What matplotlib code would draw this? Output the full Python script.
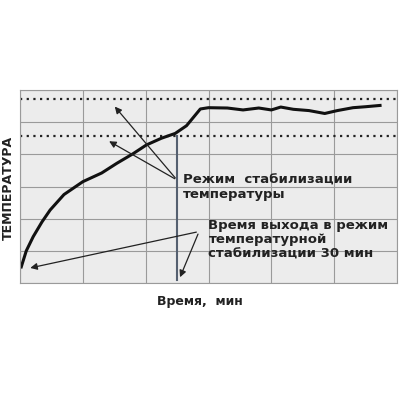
import matplotlib
matplotlib.use("Agg")
import matplotlib.pyplot as plt

# temperature curve (grid units: 6 columns x 6 rows)
curve_x = [0.02, 0.1, 0.21, 0.35, 0.48, 0.7, 1.0, 1.3, 1.54, 1.8, 2.01, 2.25, 2.47, 2.65, 2.87,
           3.0, 3.3, 3.55, 3.8, 4.0, 4.15, 4.35, 4.6, 4.85, 5.05, 5.3, 5.5, 5.73]
curve_y = [0.5, 1.0, 1.44, 1.9, 2.27, 2.75, 3.15, 3.42, 3.72, 4.02, 4.29, 4.5, 4.65, 4.89, 5.41,
           5.45, 5.44, 5.38, 5.44, 5.38, 5.47, 5.4, 5.36, 5.27, 5.36, 5.45, 5.48, 5.52]
upper_level = 5.71
lower_level = 4.57
exit_time = 2.5

fig = plt.figure(figsize=(4, 4), dpi=100)
ax = fig.add_axes([0.05, 0.2925, 0.9425, 0.4825])
ax.set_facecolor("#ececec")
ax.set_xlim(0, 6)
ax.set_ylim(0, 6)
ax.set_xticks(range(7))
ax.set_yticks(range(7))
ax.grid(True, color="#9a9a9a", lw=0.8)
ax.tick_params(length=0, labelbottom=False, labelleft=False)
for s in ax.spines.values():
    s.set_color("#9a9a9a")

ax.axhline(upper_level, color="#222", lw=1.6, ls=(0, (1, 2)))
ax.axhline(lower_level, color="#222", lw=1.6, ls=(0, (1, 2)))
ax.plot(curve_x, curve_y, color="#111", lw=2.2)
ax.plot([exit_time, exit_time], [lower_level, 0.1], color="#556070", lw=1.5)

kw = dict(arrowstyle="-|>", color="#222", lw=0.9, mutation_scale=10)
ax.annotate("", xy=(1.48, 5.55), xytext=(2.5, 3.2), arrowprops=kw)
ax.annotate("", xy=(1.38, 4.45), xytext=(2.5, 3.2), arrowprops=kw)
ax.annotate("", xy=(0.12, 0.45), xytext=(2.85, 1.6), arrowprops=kw)
ax.annotate("", xy=(2.53, 0.1), xytext=(2.85, 1.6), arrowprops=kw)

ax.text(2.6, 3.4, "Режим  стабилизации\nтемпературы", fontsize=9.5, weight="bold",
        color="#222", va="top", linespacing=1.15)
ax.text(3.0, 2.0, "Время выхода в режим\nтемпературной\nстабилизации 30 мин", fontsize=9.5,
        weight="bold", color="#222", va="top", linespacing=1.15)

fig.text(0.02, 0.53, "ТЕМПЕРАТУРА", rotation=90, fontsize=9, weight="bold",
         color="#222", ha="center", va="center")
fig.text(0.5, 0.245, "Время,  мин", fontsize=9, weight="bold", color="#222",
         ha="center", va="center")

plt.savefig("out.png", dpi=100)
